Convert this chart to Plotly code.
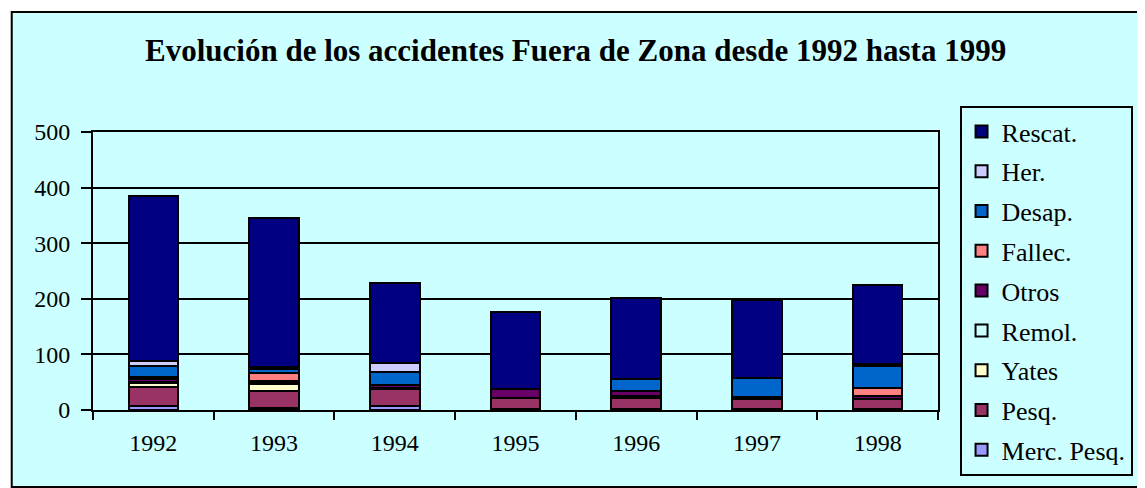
import plotly.graph_objects as go

years = ["1992", "1993", "1994", "1995", "1996", "1997", "1998"]

merc_pesq = [7, 3, 8, 2, 2, 2, 2]
pesq = [34, 31, 29, 20, 20, 17, 17]
yates = [7, 12, 0, 0, 0, 0, 0]
remol = [3, 2, 2, 0, 3, 0, 0]
otros = [5, 5, 6, 16, 10, 5, 7]
fallec = [3, 13, 0, 0, 0, 0, 14]
desap = [21, 8, 23, 0, 21, 33, 40]
her = [9, 3, 17, 0, 0, 0, 3]
rescat = [296, 269, 144, 139, 146, 141, 142]

series = [
    ("Merc. Pesq.", merc_pesq, "#9999FF"),
    ("Pesq.", pesq, "#993366"),
    ("Yates", yates, "#FFFFCC"),
    ("Remol.", remol, "#CCFFFF"),
    ("Otros", otros, "#660066"),
    ("Fallec.", fallec, "#FF8080"),
    ("Desap.", desap, "#0066CC"),
    ("Her.", her, "#CCCCFF"),
    ("Rescat.", rescat, "#000080"),
]

OFF = 8  # default page body margin
W, H = 1145 - OFF, 488 - OFF
# plot area in reference-window pixels
L, R, T, B = 93, 956, 132, 410


def px(x):
    return (x - L) / (R - L)


def py(y):
    return (B - y) / (B - T)


fig = go.Figure()
n = len(series)
for i, (name, vals, col) in enumerate(series):
    fig.add_trace(go.Bar(
        x=years, y=vals, name=name, legendgroup=name, legendrank=1000 - i,
        marker=dict(color=col, line=dict(color="black", width=2)),
    ))

fig.update_layout(
    width=W, height=H,
    barmode="stack", bargap=0.59,
    paper_bgcolor="white", plot_bgcolor="#CCFFCC",
    margin=dict(l=L - OFF, r=1145 - R, t=T - OFF, b=488 - B, pad=0),
    font=dict(family="Liberation Serif, Times New Roman, serif", color="black", size=24),
    showlegend=True,
    legend=dict(
        x=px(978), y=py(106), xanchor="left", yanchor="top",
        bgcolor="#CCFFFF", bordercolor="black", borderwidth=2,
        font=dict(size=26), traceorder="grouped", tracegroupgap=3,
        maxheight=470,
    ),
    annotations=[dict(
        text="<b>Evolución de los accidentes Fuera de Zona desde 1992 hasta 1999</b>",
        xref="paper", yref="paper", x=px(586), y=py(50),
        xanchor="center", yanchor="middle", showarrow=False,
        font=dict(size=31, family="Liberation Serif, Times New Roman, serif", color="black"),
    )],
    shapes=[dict(
        type="rect", xref="paper", yref="paper", layer="below",
        x0=px(10), x1=px(1170), y0=py(487), y1=py(12),
        fillcolor="#CCFFFF", line=dict(color="black", width=2),
    )],
)

fig.update_yaxes(
    range=[0, 500], dtick=100, showgrid=True, gridcolor="black", gridwidth=2,
    showline=True, linecolor="black", linewidth=2, mirror=True,
    ticks="outside", ticklen=10, tickwidth=2, tickcolor="black",
    zeroline=False, tickfont=dict(size=24), ticklabelstandoff=6,
)
fig.update_xaxes(
    showline=True, linecolor="black", linewidth=2, mirror=True,
    ticks="outside", tickson="boundaries", ticklen=8, tickwidth=2, tickcolor="black",
    tickfont=dict(size=24), ticklabelstandoff=10,
)

fig.write_html("out.html")
